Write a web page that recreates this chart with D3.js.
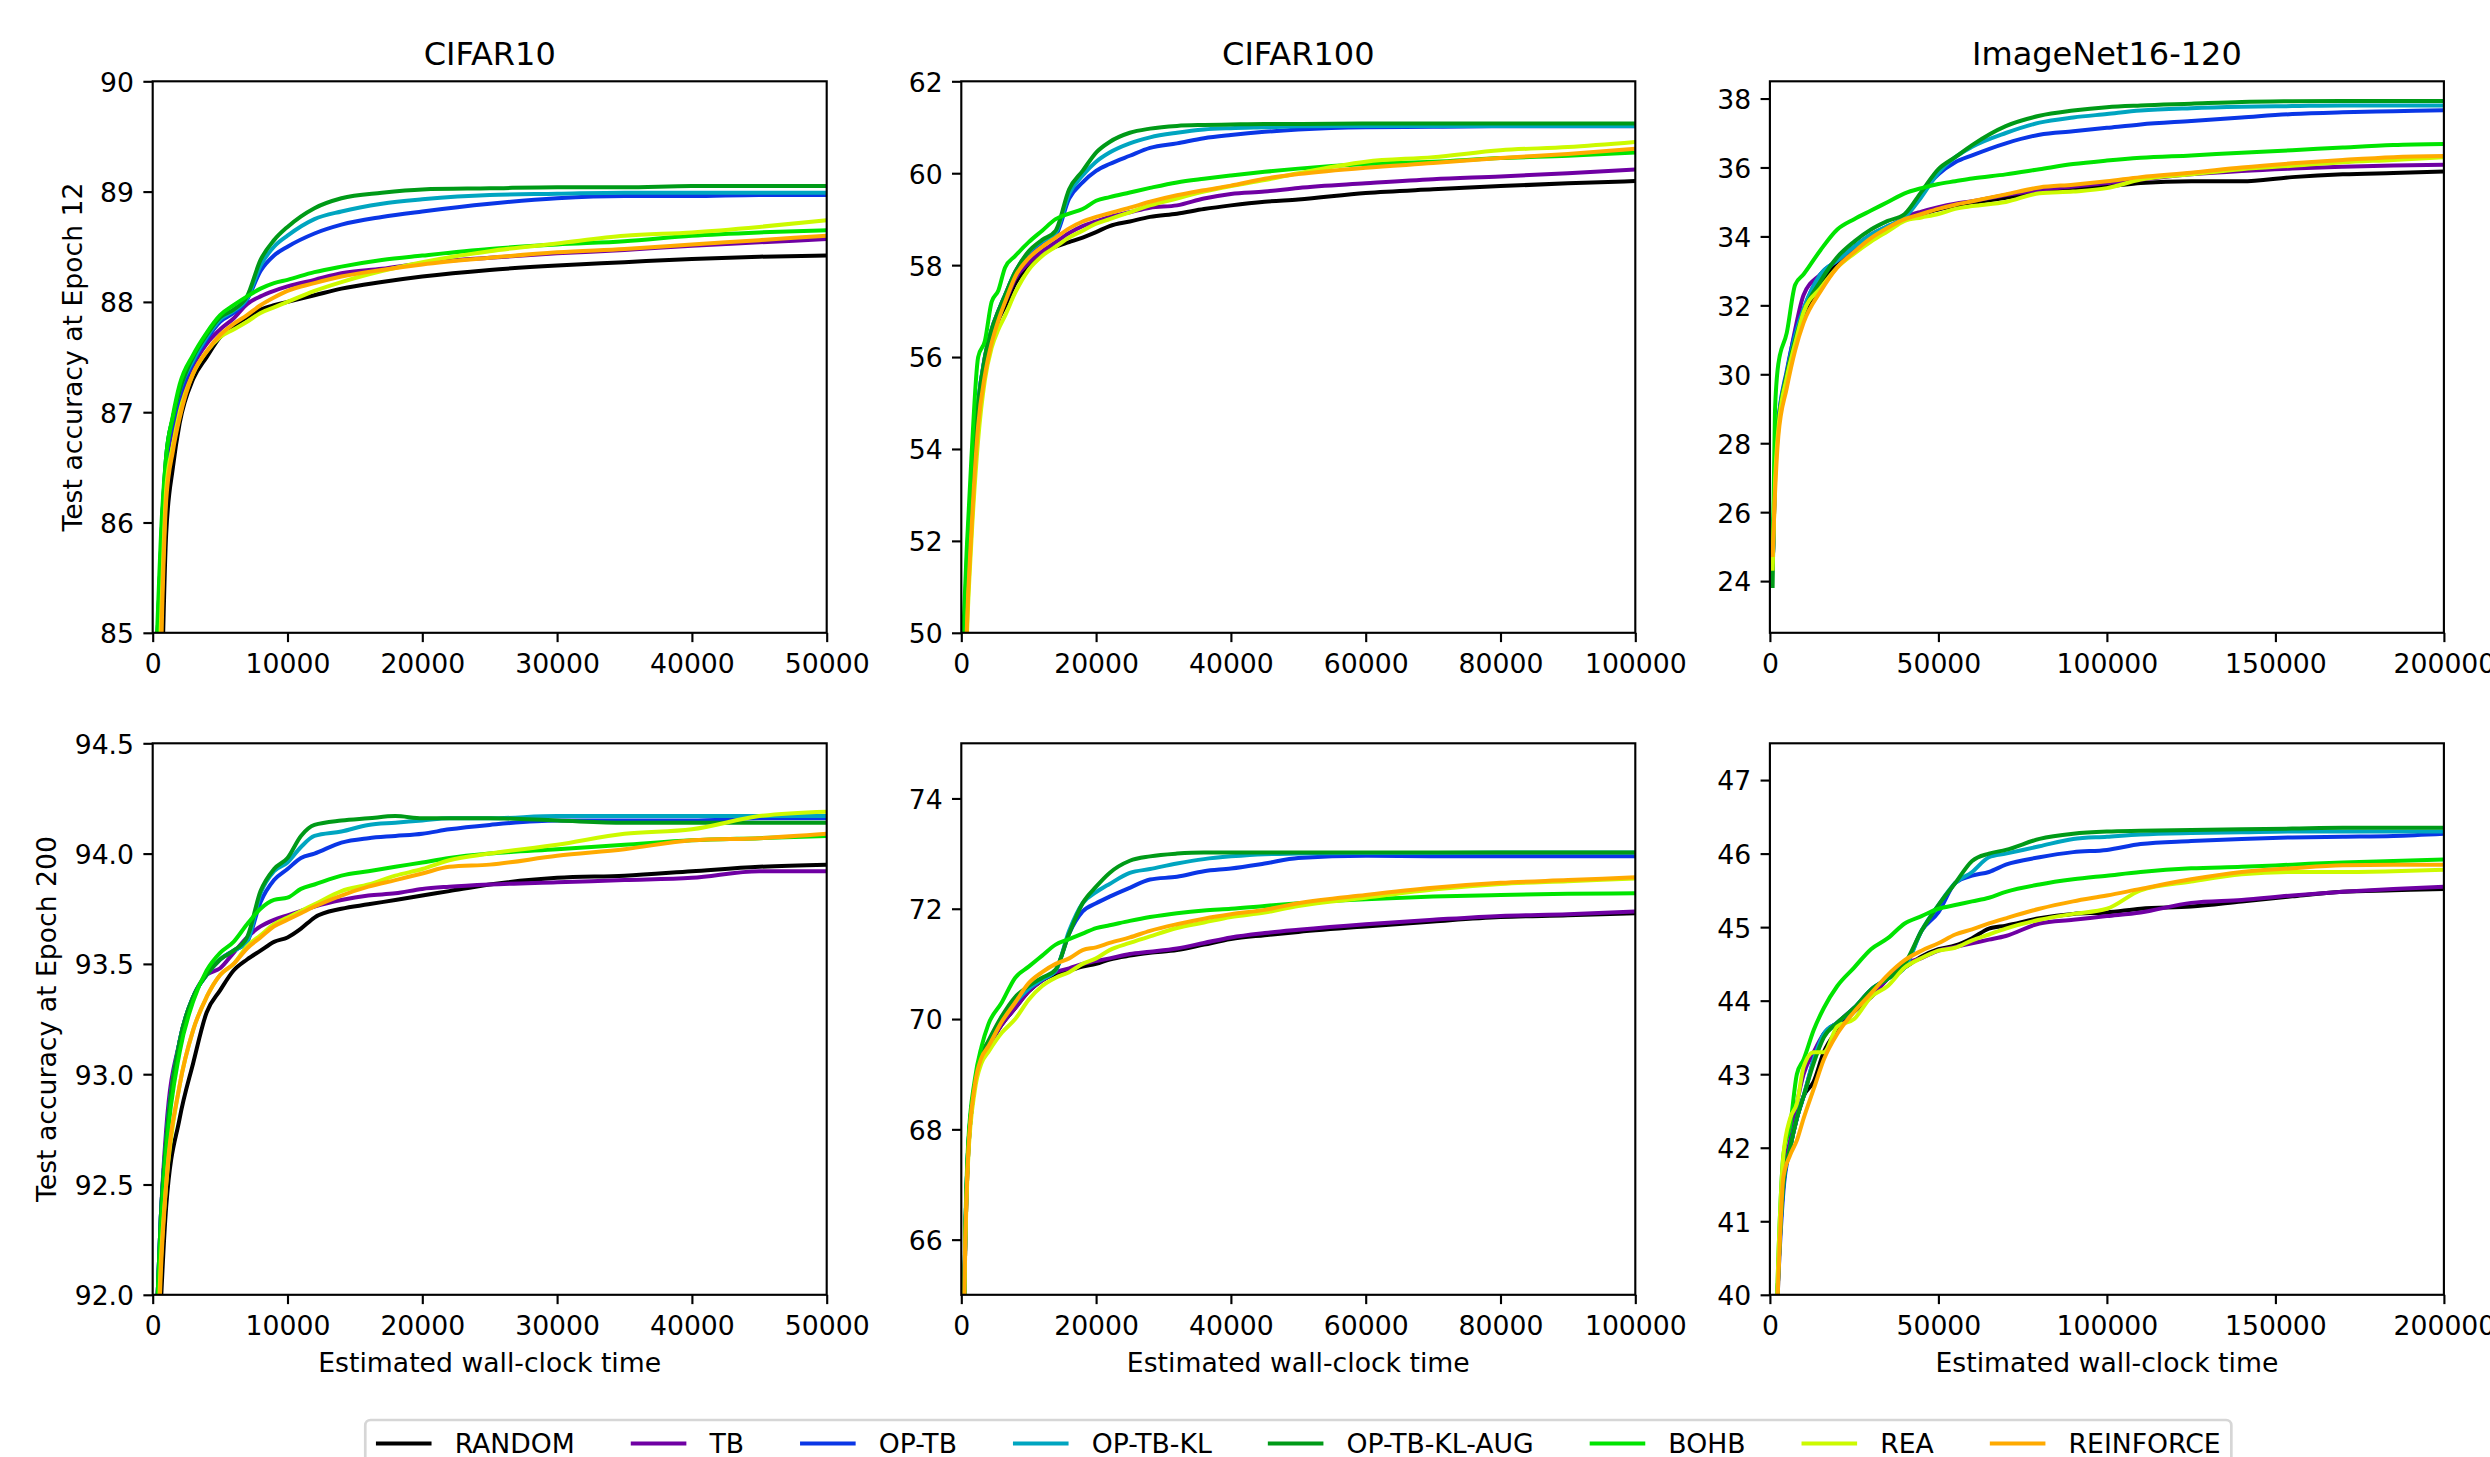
<!DOCTYPE html>
<html>
<head>
<meta charset="utf-8">
<script src="https://cdn.jsdelivr.net/npm/d3@7"></script>
<style>
  html, body { margin: 0; padding: 0; background: #ffffff; }
  svg { display: block; }
  text { font-family: "DejaVu Sans", sans-serif; fill: #000; }
</style>
</head>
<body>
<svg id="chart" width="2490" height="1457"></svg>
<script>
// ---------------- DATA ----------------
const methods = ["RANDOM", "TB", "OP-TB", "OP-TB-KL", "OP-TB-KL-AUG", "BOHB", "REA", "REINFORCE"];
const colors  = ["#000000", "#6f00a3", "#0a36e6", "#00a5c0", "#009a17", "#00e400", "#ccfa00", "#ffaa00"];
const datasets = ["CIFAR10", "CIFAR100", "ImageNet16-120"];
const yLabels = ["Test accuracy at Epoch 12", "Test accuracy at Epoch 200"];
const xLabel = "Estimated wall-clock time";

// x ticks per dataset
const c10XTicks  = [0, 10000, 20000, 30000, 40000, 50000];
const c100XTicks = [0, 20000, 40000, 60000, 80000, 100000];
const imgXTicks  = [0, 50000, 100000, 150000, 200000];
const c10XDomain  = [0, 50000];
const c100XDomain = [0, 100000];
const imgXDomain  = [0, 200000];

// y ticks / limits per panel
const c10e12YTicks  = [85, 86, 87, 88, 89, 90];          const c10e12YDomain  = [85, 90];
const c100e12YTicks = [50, 52, 54, 56, 58, 60, 62];      const c100e12YDomain = [50, 62];
const imge12YTicks  = [24, 26, 28, 30, 32, 34, 36, 38];  const imge12YDomain  = [22.5, 38.5];
const c10e200YTicks = [92.0, 92.5, 93.0, 93.5, 94.0, 94.5]; const c10e200YDomain = [92, 94.5];
const c100e200YTicks = [66, 68, 70, 72, 74];             const c100e200YDomain = [65, 75];
const imge200YTicks = [40, 41, 42, 43, 44, 45, 46, 47];  const imge200YDomain = [40, 47.5];

// CIFAR10, epoch 12  (rows in methods order)
const c10e12X = [300, 700, 1000, 1500, 2000, 3000, 4000, 5000, 6000, 7000, 8000, 9000, 10000, 12000, 14000, 17000, 20000, 25000, 30000, 35000, 40000, 45000, 50000];
const c10e12Y = [
  [82.0, 84.6, 85.9, 86.5, 86.9, 87.3, 87.5, 87.68, 87.78, 87.86, 87.93, 87.97, 88.0, 88.06, 88.12, 88.18, 88.23, 88.29, 88.33, 88.36, 88.39, 88.41, 88.42],
  [84.5, 85.8, 86.5, 86.85, 87.1, 87.42, 87.62, 87.75, 87.85, 87.98, 88.05, 88.1, 88.14, 88.2, 88.26, 88.3, 88.35, 88.4, 88.44, 88.47, 88.51, 88.54, 88.57],
  [84.8, 86.0, 86.55, 86.9, 87.15, 87.45, 87.66, 87.82, 87.9, 88.02, 88.28, 88.42, 88.5, 88.62, 88.7, 88.77, 88.82, 88.89, 88.94, 88.96, 88.96, 88.97, 88.97],
  [84.8, 86.0, 86.6, 86.95, 87.2, 87.47, 87.68, 87.84, 87.92, 88.03, 88.33, 88.5, 88.6, 88.75, 88.82, 88.89, 88.93, 88.97, 88.98, 88.99, 88.99, 88.99, 88.99],
  [84.8, 86.0, 86.6, 86.95, 87.2, 87.5, 87.7, 87.86, 87.93, 88.05, 88.38, 88.56, 88.68, 88.85, 88.94, 88.99, 89.02, 89.03, 89.04, 89.04, 89.05, 89.05, 89.05],
  [84.9, 86.1, 86.6, 86.97, 87.25, 87.52, 87.72, 87.88, 87.97, 88.05, 88.12, 88.17, 88.2, 88.27, 88.32, 88.38, 88.42, 88.48, 88.52, 88.55, 88.6, 88.63, 88.65],
  [84.0, 85.4, 86.3, 86.7, 87.0, 87.35, 87.55, 87.68, 87.75, 87.82, 87.9, 87.95, 88.0, 88.1, 88.18, 88.28, 88.36, 88.46, 88.53, 88.6, 88.63, 88.68, 88.74],
  [83.0, 85.2, 86.2, 86.65, 86.95, 87.35, 87.55, 87.7, 87.8, 87.88, 87.97, 88.04, 88.1, 88.17, 88.23, 88.29, 88.34, 88.4, 88.45, 88.48, 88.52, 88.56, 88.6]
];

// CIFAR100, epoch 12
const c100e12X = [300, 800, 1500, 2500, 3500, 4500, 5500, 6500, 8000, 10000, 12000, 14000, 16000, 18000, 20000, 22000, 25000, 28000, 32000, 36000, 40000, 45000, 50000, 60000, 70000, 80000, 90000, 100000];
const c100e12Y = [
  [48.0, 50.6, 52.5, 54.6, 55.7, 56.3, 56.8, 57.1, 57.6, 58.0, 58.25, 58.4, 58.5, 58.6, 58.72, 58.85, 58.95, 59.05, 59.12, 59.22, 59.3, 59.38, 59.43, 59.57, 59.65, 59.72, 59.78, 59.83],
  [48.5, 50.8, 52.6, 54.8, 55.8, 56.4, 56.9, 57.2, 57.7, 58.05, 58.3, 58.5, 58.7, 58.85, 58.95, 59.05, 59.15, 59.25, 59.3, 59.45, 59.55, 59.6, 59.68, 59.78, 59.87, 59.93, 60.0, 60.08],
  [49.5, 51.2, 53.0, 55.0, 56.0, 56.6, 57.0, 57.35, 57.85, 58.25, 58.5, 58.65, 59.45, 59.8, 60.05, 60.2, 60.38, 60.55, 60.65, 60.76, 60.83, 60.9, 60.95, 61.0, 61.01, 61.02, 61.02, 61.02],
  [49.5, 51.3, 53.0, 55.0, 56.0, 56.6, 57.0, 57.35, 57.85, 58.28, 58.52, 58.7, 59.55, 59.95, 60.25, 60.45, 60.65, 60.78, 60.88, 60.95, 60.98, 61.0, 61.02, 61.03, 61.03, 61.03, 61.03, 61.03],
  [49.5, 51.5, 53.3, 55.0, 56.0, 56.6, 57.0, 57.35, 57.85, 58.3, 58.55, 58.75, 59.65, 60.05, 60.45, 60.68, 60.88, 60.97, 61.03, 61.05, 61.06, 61.07, 61.07, 61.08, 61.08, 61.08, 61.08, 61.08],
  [50.0, 51.8, 53.8, 56.0, 56.35, 57.2, 57.45, 57.95, 58.2, 58.5, 58.75, 59.0, 59.12, 59.22, 59.4, 59.48, 59.58, 59.68, 59.8, 59.88, 59.95, 60.03, 60.1, 60.2, 60.25, 60.33, 60.38, 60.45],
  [47.0, 49.8, 52.0, 54.2, 55.5, 56.2, 56.6, 56.9, 57.4, 57.9, 58.2, 58.4, 58.6, 58.75, 58.9, 59.0, 59.15, 59.3, 59.45, 59.6, 59.72, 59.85, 60.0, 60.25, 60.35, 60.5, 60.57, 60.68],
  [47.0, 50.0, 52.2, 54.5, 55.6, 56.3, 56.8, 57.2, 57.75, 58.15, 58.4, 58.6, 58.8, 58.95, 59.05, 59.13, 59.25, 59.38, 59.52, 59.63, 59.73, 59.88, 59.98, 60.12, 60.22, 60.33, 60.42, 60.53]
];

// ImageNet16-120, epoch 12
const imge12X = [800, 1500, 2500, 5000, 7500, 10000, 15000, 20000, 25000, 30000, 35000, 40000, 45000, 50000, 55000, 60000, 70000, 80000, 90000, 100000, 110000, 125000, 140000, 155000, 170000, 185000, 200000];
const imge12Y = [
  [24.3, 27.0, 28.5, 29.8, 30.8, 31.6, 32.6, 33.2, 33.6, 33.95, 34.2, 34.5, 34.65, 34.78, 34.88, 34.97, 35.12, 35.3, 35.4, 35.45, 35.55, 35.6, 35.6, 35.72, 35.8, 35.84, 35.88],
  [24.3, 27.0, 28.5, 30.0, 31.3, 32.3, 32.9, 33.3, 33.65, 34.0, 34.25, 34.55, 34.72, 34.85, 34.95, 35.02, 35.2, 35.35, 35.45, 35.55, 35.65, 35.8, 35.9, 35.97, 36.02, 36.06, 36.08],
  [24.3, 27.2, 28.6, 30.1, 31.2, 31.9, 32.9, 33.3, 33.7, 34.05, 34.3, 34.55, 35.25, 35.8, 36.15, 36.35, 36.7, 36.95, 37.05, 37.15, 37.25, 37.35, 37.45, 37.55, 37.6, 37.63, 37.66],
  [24.3, 27.2, 28.6, 30.0, 31.1, 31.9, 32.9, 33.3, 33.7, 34.05, 34.3, 34.55, 35.15, 35.85, 36.3, 36.6, 37.0, 37.3, 37.45, 37.55, 37.65, 37.72, 37.76, 37.78, 37.8, 37.8, 37.8],
  [23.8, 27.5, 28.6, 30.0, 31.0, 31.8, 32.7, 33.4, 33.85, 34.2, 34.45, 34.65, 35.3, 35.95, 36.3, 36.65, 37.2, 37.5, 37.65, 37.75, 37.8, 37.85, 37.9, 37.92, 37.93, 37.93, 37.93],
  [24.5, 28.9, 30.3, 31.2, 32.6, 32.9, 33.6, 34.2, 34.5, 34.75, 35.0, 35.25, 35.4, 35.52, 35.6, 35.68, 35.8, 35.95, 36.1, 36.2, 36.28, 36.35, 36.43, 36.5, 36.58, 36.65, 36.68],
  [24.3, 26.8, 28.4, 29.9, 30.9, 31.8, 32.5, 33.1, 33.5, 33.85, 34.15, 34.45, 34.55, 34.65, 34.8, 34.88, 35.0, 35.25, 35.3, 35.4, 35.65, 35.8, 35.95, 36.05, 36.15, 36.22, 36.3],
  [24.7, 26.5, 28.2, 29.6, 30.7, 31.5, 32.4, 33.1, 33.55, 33.95, 34.25, 34.5, 34.65, 34.8, 34.92, 35.02, 35.22, 35.42, 35.5, 35.6, 35.72, 35.85, 36.0, 36.12, 36.22, 36.3, 36.33]
];

// CIFAR10, epoch 200
const c10e200X = [300, 600, 1000, 2000, 3000, 4000, 5000, 6000, 7000, 8000, 9000, 10000, 11000, 12000, 14000, 16000, 18000, 20000, 22000, 25000, 30000, 35000, 40000, 45000, 50000];
const c10e200Y = [
  [91.5, 91.95, 92.4, 92.8, 93.05, 93.28, 93.38, 93.47, 93.52, 93.56, 93.6, 93.62, 93.66, 93.71, 93.75, 93.77, 93.79, 93.81, 93.83, 93.86, 93.89, 93.9, 93.92, 93.94, 93.95],
  [91.9, 92.35, 92.75, 93.15, 93.35, 93.45, 93.48, 93.55, 93.62, 93.67, 93.7, 93.72, 93.74, 93.76, 93.79, 93.81, 93.82, 93.84, 93.85, 93.86, 93.87, 93.88, 93.89, 93.92, 93.92],
  [91.9, 92.35, 92.7, 93.15, 93.35, 93.45, 93.52, 93.56, 93.6, 93.78, 93.88, 93.93, 93.98, 94.0, 94.05, 94.07, 94.08, 94.09, 94.11, 94.13, 94.15, 94.15, 94.15, 94.16, 94.16],
  [91.9, 92.35, 92.7, 93.15, 93.35, 93.45, 93.52, 93.56, 93.6, 93.82, 93.92, 93.96, 94.03, 94.08, 94.1, 94.13, 94.14, 94.15, 94.16, 94.16, 94.17, 94.17, 94.17, 94.17, 94.17],
  [91.9, 92.35, 92.7, 93.15, 93.35, 93.45, 93.52, 93.56, 93.62, 93.83, 93.93, 93.98, 94.08, 94.13, 94.15, 94.16, 94.17, 94.16, 94.16, 94.16, 94.15, 94.14, 94.14, 94.14, 94.14],
  [91.9, 92.3, 92.65, 93.1, 93.33, 93.47, 93.55, 93.6, 93.68, 93.75, 93.79, 93.8, 93.84, 93.86, 93.9, 93.92, 93.94, 93.96, 93.98, 94.0, 94.02, 94.04, 94.06, 94.07, 94.08],
  [91.7, 92.15, 92.5, 92.95, 93.2, 93.35, 93.45, 93.5, 93.58, 93.63, 93.68, 93.71, 93.74, 93.77, 93.83, 93.86, 93.9, 93.93, 93.97, 94.0, 94.04, 94.09, 94.11, 94.17, 94.19],
  [91.6, 92.1, 92.5, 92.95, 93.2, 93.35, 93.45, 93.5, 93.57, 93.62, 93.67, 93.7, 93.73, 93.76, 93.81, 93.85, 93.88, 93.91, 93.94, 93.95, 93.99, 94.02, 94.06, 94.07, 94.09]
];

// CIFAR100, epoch 200
const c100e200X = [300, 600, 1000, 2000, 3000, 4000, 6000, 8000, 10000, 12000, 14000, 16000, 18000, 20000, 22000, 25000, 28000, 32000, 36000, 40000, 45000, 50000, 60000, 70000, 80000, 90000, 100000];
const c100e200Y = [
  [64.0, 66.0, 67.5, 68.8, 69.3, 69.5, 69.9, 70.2, 70.5, 70.7, 70.82, 70.88, 70.95, 71.0, 71.08, 71.15, 71.2, 71.25, 71.35, 71.45, 71.52, 71.58, 71.68, 71.77, 71.85, 71.88, 71.92],
  [64.0, 66.0, 67.5, 68.8, 69.3, 69.5, 69.9, 70.2, 70.5, 70.7, 70.85, 70.92, 71.0, 71.05, 71.1, 71.18, 71.22, 71.28, 71.38, 71.48, 71.56, 71.62, 71.72, 71.8, 71.87, 71.9, 71.95],
  [64.0, 66.1, 67.6, 68.8, 69.3, 69.5, 70.0, 70.3, 70.55, 70.72, 70.88, 71.55, 71.95, 72.1, 72.22, 72.38, 72.53, 72.58, 72.68, 72.73, 72.82, 72.92, 72.96, 72.95, 72.95, 72.95, 72.95],
  [64.0, 66.1, 67.6, 68.8, 69.3, 69.5, 70.0, 70.3, 70.55, 70.72, 70.88, 71.6, 72.1, 72.3, 72.45, 72.65, 72.72, 72.82, 72.9, 72.95, 72.99, 73.0, 73.01, 73.01, 73.02, 73.02, 73.02],
  [64.0, 66.1, 67.6, 68.8, 69.35, 69.6, 70.05, 70.4, 70.6, 70.75, 70.9, 71.55, 72.1, 72.4, 72.65, 72.87, 72.95, 73.0, 73.02, 73.02, 73.02, 73.02, 73.02, 73.02, 73.02, 73.02, 73.02],
  [64.0, 66.2, 67.7, 68.9, 69.5, 69.9, 70.3, 70.75, 70.95, 71.15, 71.35, 71.45, 71.55, 71.65, 71.7, 71.78, 71.85, 71.92, 71.97, 72.0, 72.05, 72.1, 72.17, 72.22, 72.25, 72.27, 72.28],
  [64.0, 65.9, 67.4, 68.7, 69.2, 69.4, 69.75, 70.0, 70.35, 70.6, 70.75, 70.85, 71.0, 71.1, 71.25, 71.38, 71.5, 71.65, 71.75, 71.85, 71.93, 72.05, 72.2, 72.35, 72.45, 72.5, 72.55],
  [64.0, 66.0, 67.5, 68.8, 69.3, 69.5, 69.95, 70.3, 70.65, 70.85, 71.0, 71.1, 71.25, 71.3, 71.38, 71.48, 71.6, 71.72, 71.82, 71.9, 71.98, 72.1, 72.25, 72.38, 72.47, 72.52, 72.57]
];

// ImageNet16-120, epoch 200
const imge200X = [1500, 2500, 4000, 6000, 8000, 10000, 13000, 16000, 20000, 25000, 30000, 35000, 40000, 45000, 50000, 55000, 60000, 65000, 70000, 80000, 90000, 100000, 110000, 125000, 140000, 155000, 170000, 185000, 200000];
const imge200Y = [
  [39.0, 40.3, 41.5, 42.0, 42.4, 42.7, 42.9, 43.3, 43.6, 43.85, 44.05, 44.3, 44.45, 44.6, 44.7, 44.75, 44.85, 44.98, 45.02, 45.12, 45.18, 45.2, 45.25, 45.28, 45.35, 45.42, 45.48, 45.5, 45.52],
  [39.0, 40.3, 41.6, 42.1, 42.6, 43.0, 43.3, 43.55, 43.7, 43.9, 44.05, 44.3, 44.5, 44.58, 44.68, 44.73, 44.78, 44.83, 44.88, 45.05, 45.1, 45.15, 45.2, 45.33, 45.37, 45.43, 45.48, 45.52, 45.55],
  [39.0, 40.2, 41.4, 42.0, 42.4, 42.7, 43.2, 43.55, 43.7, 43.9, 44.15, 44.3, 44.45, 44.95, 45.2, 45.6, 45.7, 45.75, 45.85, 45.95, 46.02, 46.05, 46.13, 46.17, 46.2, 46.22, 46.23, 46.24, 46.27],
  [39.0, 40.3, 41.5, 42.0, 42.4, 42.7, 43.2, 43.55, 43.7, 43.9, 44.15, 44.3, 44.45, 44.95, 45.3, 45.6, 45.75, 45.95, 46.0, 46.1, 46.2, 46.23, 46.26, 46.28, 46.29, 46.3, 46.3, 46.3, 46.3],
  [39.0, 40.3, 41.5, 42.0, 42.4, 42.7, 43.15, 43.5, 43.7, 43.9, 44.15, 44.3, 44.5, 44.95, 45.3, 45.6, 45.9, 46.0, 46.05, 46.2, 46.27, 46.3, 46.31, 46.32, 46.33, 46.34, 46.35, 46.35, 46.35],
  [39.0, 40.5, 41.9, 42.3, 43.0, 43.2, 43.6, 43.9, 44.2, 44.45, 44.7, 44.85, 45.05, 45.15, 45.25, 45.3, 45.35, 45.4, 45.48, 45.58, 45.65, 45.7, 45.75, 45.8, 45.82, 45.85, 45.88, 45.9, 45.92],
  [39.0, 40.5, 41.9, 42.4, 42.6, 43.1, 43.3, 43.3, 43.65, 43.75, 44.05, 44.2, 44.45, 44.58, 44.68, 44.72, 44.82, 44.9, 44.98, 45.1, 45.18, 45.25, 45.5, 45.62, 45.72, 45.75, 45.75, 45.76, 45.78],
  [39.0, 40.2, 41.6, 41.9, 42.1, 42.4, 42.8, 43.2, 43.55, 43.85, 44.1, 44.35, 44.55, 44.68, 44.78, 44.9, 44.97, 45.05, 45.12, 45.25, 45.35, 45.43, 45.52, 45.65, 45.75, 45.8, 45.84, 45.85, 45.85]
];

// ---------------- LAYOUT ----------------
const svg = d3.select("#chart");
const colLeft = [152.7, 961.3, 1769.9];
const rowTop = [81.3, 743.3];
const W = 674, H = 551.5;
const FS = 26.67;       // 10pt @192dpi
const titleFS = 32;     // 12pt @192dpi
const lw = 4;           // 1.5pt
const spineW = 2.13;    // 0.8pt
const tickLen = 9.33, tickPad = 9.33;

const panels = [
  { r: 0, c: 0, X: c10e12X,  Y: c10e12Y,  xd: c10XDomain,  xt: c10XTicks,  yd: c10e12YDomain,  yt: c10e12YTicks,  yf: d3.format("d") },
  { r: 0, c: 1, X: c100e12X, Y: c100e12Y, xd: c100XDomain, xt: c100XTicks, yd: c100e12YDomain, yt: c100e12YTicks, yf: d3.format("d") },
  { r: 0, c: 2, X: imge12X,  Y: imge12Y,  xd: imgXDomain,  xt: imgXTicks,  yd: imge12YDomain,  yt: imge12YTicks,  yf: d3.format("d") },
  { r: 1, c: 0, X: c10e200X, Y: c10e200Y, xd: c10XDomain,  xt: c10XTicks,  yd: c10e200YDomain, yt: c10e200YTicks, yf: d3.format(".1f") },
  { r: 1, c: 1, X: c100e200X,Y: c100e200Y,xd: c100XDomain, xt: c100XTicks, yd: c100e200YDomain,yt: c100e200YTicks,yf: d3.format("d") },
  { r: 1, c: 2, X: imge200X, Y: imge200Y, xd: imgXDomain,  xt: imgXTicks,  yd: imge200YDomain, yt: imge200YTicks, yf: d3.format("d") }
];

const defs = svg.append("defs");

panels.forEach((p, i) => {
  const x0 = colLeft[p.c], y0 = rowTop[p.r];
  const g = svg.append("g").attr("transform", `translate(${x0},${y0})`);
  const xs = d3.scaleLinear().domain(p.xd).range([0, W]);
  const ys = d3.scaleLinear().domain(p.yd).range([H, 0]);

  defs.append("clipPath").attr("id", "clip" + i)
    .append("rect").attr("x", 0).attr("y", 0).attr("width", W).attr("height", H);

  const line = d3.line()
    .x((d, k) => xs(p.X[k]))
    .y(d => ys(d))
    .curve(d3.curveMonotoneX);

  const lg = g.append("g").attr("clip-path", `url(#clip${i})`);
  p.Y.forEach((series, m) => {
    lg.append("path")
      .attr("d", line(series))
      .attr("fill", "none")
      .attr("stroke", colors[m])
      .attr("stroke-width", lw)
      .attr("stroke-linejoin", "round")
      .attr("stroke-linecap", "butt");
  });

  // axes
  const xAxis = d3.axisBottom(xs).tickValues(p.xt).tickFormat(d3.format("d"))
    .tickSize(tickLen).tickPadding(tickPad);
  const yAxis = d3.axisLeft(ys).tickValues(p.yt).tickFormat(p.yf)
    .tickSize(tickLen).tickPadding(tickPad);

  const gx = g.append("g").attr("transform", `translate(0,${H})`).call(xAxis);
  const gy = g.append("g").call(yAxis);
  [gx, gy].forEach(a => {
    a.select(".domain").remove();
    a.selectAll(".tick line").attr("stroke", "#000").attr("stroke-width", spineW);
    a.selectAll(".tick text").attr("font-family", "DejaVu Sans").attr("font-size", FS).attr("fill", "#000");
  });
  gx.selectAll(".tick text").attr("dy", "0.81em");
  gy.selectAll(".tick text").attr("dy", "0.37em");

  // spines
  g.append("rect").attr("x", 0).attr("y", 0).attr("width", W).attr("height", H)
    .attr("fill", "none").attr("stroke", "#000").attr("stroke-width", spineW);

  // titles
  if (p.r === 0) {
    g.append("text").attr("x", W / 2).attr("y", -16.3)
      .attr("text-anchor", "middle").attr("font-size", titleFS)
      .text(datasets[p.c]);
  }
  // x label
  if (p.r === 1) {
    g.append("text").attr("x", W / 2).attr("y", H + 77.7)
      .attr("text-anchor", "middle").attr("font-size", FS)
      .text(xLabel);
  }
  // y label
  if (p.c === 0) {
    const bx = p.r === 0 ? 81.5 : 55.5;
    svg.append("text")
      .attr("transform", `translate(${bx},${y0 + H / 2}) rotate(-90)`)
      .attr("text-anchor", "middle").attr("font-size", FS)
      .text(yLabels[p.r]);
  }
});

// ---------------- LEGEND ----------------
const legG = svg.append("g");
const handleLen = 55.6, textPad = 23.1, colSpace = 56, borderPad = 10.67;
const legTop = 1420, legRowY = 1443.5;
const frame = legG.append("rect");
const items = legG.append("g");
const widths = [];
methods.forEach((name) => {
  const t = items.append("text").attr("font-size", FS).text(name);
  widths.push(t.node().getComputedTextLength());
  t.remove();
});
const total = 2 * borderPad + d3.sum(widths) + methods.length * (handleLen + textPad) + (methods.length - 1) * colSpace;
const centerX = (colLeft[0] + colLeft[2] + W) / 2;
const legLeft = centerX - total / 2;
let cursor = legLeft + borderPad;
methods.forEach((name, m) => {
  items.append("line")
    .attr("x1", cursor).attr("x2", cursor + handleLen)
    .attr("y1", legRowY).attr("y2", legRowY)
    .attr("stroke", colors[m]).attr("stroke-width", lw);
  items.append("text")
    .attr("x", cursor + handleLen + textPad).attr("y", legRowY)
    .attr("dy", "0.36em").attr("font-size", FS).text(name);
  cursor += handleLen + textPad + widths[m] + colSpace;
});
frame.attr("x", legLeft).attr("y", legTop).attr("width", total).attr("height", 56)
  .attr("rx", 5.3).attr("ry", 5.3)
  .attr("fill", "#ffffff").attr("fill-opacity", 0.8)
  .attr("stroke", "#d6d6d6").attr("stroke-width", 2.67);
legG.lower();
items.raise();
</script>
</body>
</html>
